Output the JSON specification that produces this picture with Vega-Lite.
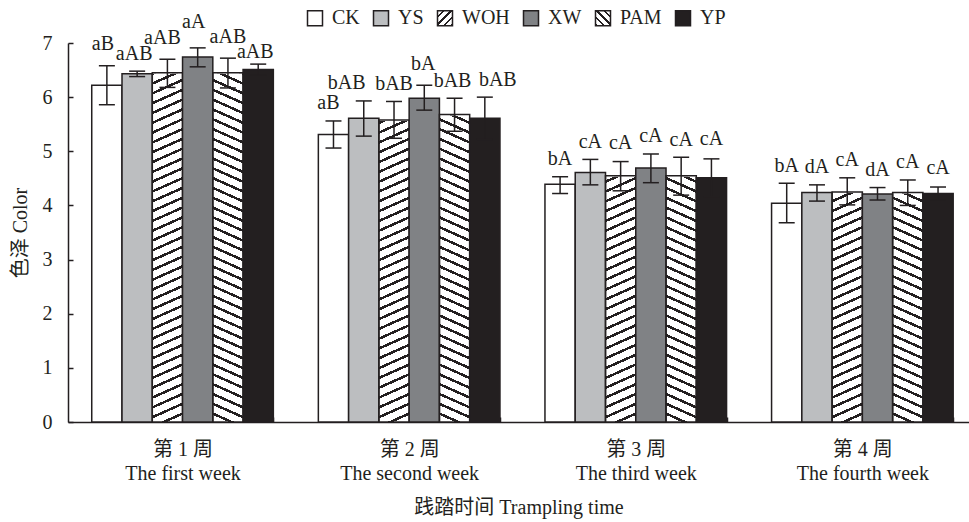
{
  "$schema": "https://vega.github.io/schema/vega-lite/v6.json",
  "width": 901,
  "height": 379,
  "autosize": {"type": "none"},
  "padding": {"left": 68, "top": 43, "right": 0, "bottom": 100},
  "background": "white",
  "config": {
    "font": "Liberation Serif, Noto Sans CJK SC",
    "view": {"stroke": null},
    "axis": {
      "labelFont": "Liberation Serif, Noto Sans CJK SC",
      "titleFont": "Liberation Serif, Noto Sans CJK SC",
      "labelFontSize": 20,
      "titleFontSize": 20,
      "titleFontWeight": "normal",
      "labelColor": "#231f20",
      "titleColor": "#231f20",
      "domainColor": "#231f20",
      "domainWidth": 1.5,
      "tickColor": "#231f20",
      "tickWidth": 1.5,
      "grid": false
    },
    "axisY": {"tickSize": -5, "labelPadding": 21, "titlePadding": 12, "grid": false},
    "axisX": {"tickSize": -5, "labelPadding": 22, "titlePadding": 14, "labelLineHeight": 24, "labelAngle": 0, "tickBand": "extent", "grid": false}
  },
  "data": {
    "values": [
      {"week": "第 1 周|The first week", "treat": "CK", "mean": 6.22, "lo": 5.86, "hi": 6.58, "label": "aB"},
      {"week": "第 1 周|The first week", "treat": "YS", "mean": 6.43, "lo": 6.38, "hi": 6.48, "label": "aAB"},
      {"week": "第 1 周|The first week", "treat": "WOH", "mean": 6.45, "lo": 6.18, "hi": 6.70, "label": "aAB"},
      {"week": "第 1 周|The first week", "treat": "XW", "mean": 6.74, "lo": 6.56, "hi": 6.91, "label": "aA"},
      {"week": "第 1 周|The first week", "treat": "PAM", "mean": 6.45, "lo": 6.17, "hi": 6.72, "label": "aAB"},
      {"week": "第 1 周|The first week", "treat": "YP", "mean": 6.51, "lo": 6.41, "hi": 6.61, "label": "aAB"},
      {"week": "第 2 周|The second week", "treat": "CK", "mean": 5.31, "lo": 5.06, "hi": 5.56, "label": "aB"},
      {"week": "第 2 周|The second week", "treat": "YS", "mean": 5.61, "lo": 5.28, "hi": 5.93, "label": "bAB"},
      {"week": "第 2 周|The second week", "treat": "WOH", "mean": 5.58, "lo": 5.24, "hi": 5.92, "label": "bAB"},
      {"week": "第 2 周|The second week", "treat": "XW", "mean": 5.98, "lo": 5.76, "hi": 6.22, "label": "bA"},
      {"week": "第 2 周|The second week", "treat": "PAM", "mean": 5.68, "lo": 5.37, "hi": 5.98, "label": "bAB"},
      {"week": "第 2 周|The second week", "treat": "YP", "mean": 5.61, "lo": 5.22, "hi": 6.00, "label": "bAB"},
      {"week": "第 3 周|The third week", "treat": "CK", "mean": 4.39, "lo": 4.22, "hi": 4.53, "label": "bA"},
      {"week": "第 3 周|The third week", "treat": "YS", "mean": 4.61, "lo": 4.38, "hi": 4.85, "label": "cA"},
      {"week": "第 3 周|The third week", "treat": "WOH", "mean": 4.55, "lo": 4.27, "hi": 4.81, "label": "cA"},
      {"week": "第 3 周|The third week", "treat": "XW", "mean": 4.69, "lo": 4.42, "hi": 4.95, "label": "cA"},
      {"week": "第 3 周|The third week", "treat": "PAM", "mean": 4.55, "lo": 4.19, "hi": 4.89, "label": "cA"},
      {"week": "第 3 周|The third week", "treat": "YP", "mean": 4.51, "lo": 4.16, "hi": 4.86, "label": "cA"},
      {"week": "第 4 周|The fourth week", "treat": "CK", "mean": 4.04, "lo": 3.68, "hi": 4.41, "label": "bA"},
      {"week": "第 4 周|The fourth week", "treat": "YS", "mean": 4.24, "lo": 4.08, "hi": 4.38, "label": "dA"},
      {"week": "第 4 周|The fourth week", "treat": "WOH", "mean": 4.25, "lo": 4.01, "hi": 4.51, "label": "cA"},
      {"week": "第 4 周|The fourth week", "treat": "XW", "mean": 4.21, "lo": 4.10, "hi": 4.33, "label": "dA"},
      {"week": "第 4 周|The fourth week", "treat": "PAM", "mean": 4.24, "lo": 4.00, "hi": 4.47, "label": "cA"},
      {"week": "第 4 周|The fourth week", "treat": "YP", "mean": 4.22, "lo": 4.10, "hi": 4.34, "label": "cA"}
    ]
  },
  "encoding": {
    "x": {
      "field": "week",
      "type": "nominal",
      "sort": null,
      "scale": {
        "domain": ["第 1 周|The first week", "第 2 周|The second week", "第 3 周|The third week", "第 4 周|The fourth week"],
        "paddingInner": 0.1986,
        "paddingOuter": 0.0873,
        "align": 0.6
      },
      "axis": {
        "title": "践踏时间 Trampling time",
        "labelExpr": "split(datum.label, '|')",
        "grid": false
      }
    },
    "xOffset": {
      "field": "treat",
      "type": "nominal",
      "sort": null,
      "scale": {"domain": ["CK", "YS", "WOH", "XW", "PAM", "YP"], "paddingInner": 0, "paddingOuter": 0}
    }
  },
  "layer": [
    {
      "transform": [{"filter": "datum.treat === 'WOH'"}],
      "mark": {
        "type": "bar",
        "fill": {"gradient": "linear", "x1": 0, "y1": 0, "x2": 0.0368, "y2": 1.0343, "stops": [
          {"offset":0,"color":"#231f20"},{"offset":0.007,"color":"#231f20"},{"offset":0.007,"color":"#fff"},{"offset":0.025,"color":"#fff"},
          {"offset":0.025,"color":"#231f20"},{"offset":0.032,"color":"#231f20"},{"offset":0.032,"color":"#fff"},{"offset":0.05,"color":"#fff"},
          {"offset":0.05,"color":"#231f20"},{"offset":0.057,"color":"#231f20"},{"offset":0.057,"color":"#fff"},{"offset":0.075,"color":"#fff"},
          {"offset":0.075,"color":"#231f20"},{"offset":0.082,"color":"#231f20"},{"offset":0.082,"color":"#fff"},{"offset":0.1,"color":"#fff"},
          {"offset":0.1,"color":"#231f20"},{"offset":0.107,"color":"#231f20"},{"offset":0.107,"color":"#fff"},{"offset":0.125,"color":"#fff"},
          {"offset":0.125,"color":"#231f20"},{"offset":0.132,"color":"#231f20"},{"offset":0.132,"color":"#fff"},{"offset":0.15,"color":"#fff"},
          {"offset":0.15,"color":"#231f20"},{"offset":0.157,"color":"#231f20"},{"offset":0.157,"color":"#fff"},{"offset":0.175,"color":"#fff"},
          {"offset":0.175,"color":"#231f20"},{"offset":0.182,"color":"#231f20"},{"offset":0.182,"color":"#fff"},{"offset":0.2,"color":"#fff"},
          {"offset":0.2,"color":"#231f20"},{"offset":0.207,"color":"#231f20"},{"offset":0.207,"color":"#fff"},{"offset":0.225,"color":"#fff"},
          {"offset":0.225,"color":"#231f20"},{"offset":0.232,"color":"#231f20"},{"offset":0.232,"color":"#fff"},{"offset":0.25,"color":"#fff"},
          {"offset":0.25,"color":"#231f20"},{"offset":0.257,"color":"#231f20"},{"offset":0.257,"color":"#fff"},{"offset":0.275,"color":"#fff"},
          {"offset":0.275,"color":"#231f20"},{"offset":0.282,"color":"#231f20"},{"offset":0.282,"color":"#fff"},{"offset":0.3,"color":"#fff"},
          {"offset":0.3,"color":"#231f20"},{"offset":0.307,"color":"#231f20"},{"offset":0.307,"color":"#fff"},{"offset":0.325,"color":"#fff"},
          {"offset":0.325,"color":"#231f20"},{"offset":0.332,"color":"#231f20"},{"offset":0.332,"color":"#fff"},{"offset":0.35,"color":"#fff"},
          {"offset":0.35,"color":"#231f20"},{"offset":0.357,"color":"#231f20"},{"offset":0.357,"color":"#fff"},{"offset":0.375,"color":"#fff"},
          {"offset":0.375,"color":"#231f20"},{"offset":0.382,"color":"#231f20"},{"offset":0.382,"color":"#fff"},{"offset":0.4,"color":"#fff"},
          {"offset":0.4,"color":"#231f20"},{"offset":0.407,"color":"#231f20"},{"offset":0.407,"color":"#fff"},{"offset":0.425,"color":"#fff"},
          {"offset":0.425,"color":"#231f20"},{"offset":0.432,"color":"#231f20"},{"offset":0.432,"color":"#fff"},{"offset":0.45,"color":"#fff"},
          {"offset":0.45,"color":"#231f20"},{"offset":0.457,"color":"#231f20"},{"offset":0.457,"color":"#fff"},{"offset":0.475,"color":"#fff"},
          {"offset":0.475,"color":"#231f20"},{"offset":0.482,"color":"#231f20"},{"offset":0.482,"color":"#fff"},{"offset":0.5,"color":"#fff"},
          {"offset":0.5,"color":"#231f20"},{"offset":0.507,"color":"#231f20"},{"offset":0.507,"color":"#fff"},{"offset":0.525,"color":"#fff"},
          {"offset":0.525,"color":"#231f20"},{"offset":0.532,"color":"#231f20"},{"offset":0.532,"color":"#fff"},{"offset":0.55,"color":"#fff"},
          {"offset":0.55,"color":"#231f20"},{"offset":0.557,"color":"#231f20"},{"offset":0.557,"color":"#fff"},{"offset":0.575,"color":"#fff"},
          {"offset":0.575,"color":"#231f20"},{"offset":0.582,"color":"#231f20"},{"offset":0.582,"color":"#fff"},{"offset":0.6,"color":"#fff"},
          {"offset":0.6,"color":"#231f20"},{"offset":0.607,"color":"#231f20"},{"offset":0.607,"color":"#fff"},{"offset":0.625,"color":"#fff"},
          {"offset":0.625,"color":"#231f20"},{"offset":0.632,"color":"#231f20"},{"offset":0.632,"color":"#fff"},{"offset":0.65,"color":"#fff"},
          {"offset":0.65,"color":"#231f20"},{"offset":0.657,"color":"#231f20"},{"offset":0.657,"color":"#fff"},{"offset":0.675,"color":"#fff"},
          {"offset":0.675,"color":"#231f20"},{"offset":0.682,"color":"#231f20"},{"offset":0.682,"color":"#fff"},{"offset":0.7,"color":"#fff"},
          {"offset":0.7,"color":"#231f20"},{"offset":0.707,"color":"#231f20"},{"offset":0.707,"color":"#fff"},{"offset":0.725,"color":"#fff"},
          {"offset":0.725,"color":"#231f20"},{"offset":0.732,"color":"#231f20"},{"offset":0.732,"color":"#fff"},{"offset":0.75,"color":"#fff"},
          {"offset":0.75,"color":"#231f20"},{"offset":0.757,"color":"#231f20"},{"offset":0.757,"color":"#fff"},{"offset":0.775,"color":"#fff"},
          {"offset":0.775,"color":"#231f20"},{"offset":0.782,"color":"#231f20"},{"offset":0.782,"color":"#fff"},{"offset":0.8,"color":"#fff"},
          {"offset":0.8,"color":"#231f20"},{"offset":0.807,"color":"#231f20"},{"offset":0.807,"color":"#fff"},{"offset":0.825,"color":"#fff"},
          {"offset":0.825,"color":"#231f20"},{"offset":0.832,"color":"#231f20"},{"offset":0.832,"color":"#fff"},{"offset":0.85,"color":"#fff"},
          {"offset":0.85,"color":"#231f20"},{"offset":0.857,"color":"#231f20"},{"offset":0.857,"color":"#fff"},{"offset":0.875,"color":"#fff"},
          {"offset":0.875,"color":"#231f20"},{"offset":0.882,"color":"#231f20"},{"offset":0.882,"color":"#fff"},{"offset":0.9,"color":"#fff"},
          {"offset":0.9,"color":"#231f20"},{"offset":0.907,"color":"#231f20"},{"offset":0.907,"color":"#fff"},{"offset":0.925,"color":"#fff"},
          {"offset":0.925,"color":"#231f20"},{"offset":0.932,"color":"#231f20"},{"offset":0.932,"color":"#fff"},{"offset":0.95,"color":"#fff"},
          {"offset":0.95,"color":"#231f20"},{"offset":0.957,"color":"#231f20"},{"offset":0.957,"color":"#fff"},{"offset":0.975,"color":"#fff"},
          {"offset":0.975,"color":"#231f20"},{"offset":0.982,"color":"#231f20"},{"offset":0.982,"color":"#fff"},{"offset":1,"color":"#fff"}
        ]}
      },
      "encoding": {
        "y": {"datum": 0, "type": "quantitative", "title": "色泽 Color"},
        "y2": {"datum": 7}
      }
    },
    {
      "transform": [{"filter": "datum.treat === 'PAM'"}],
      "mark": {
        "type": "bar",
        "fill": {"gradient": "linear", "x1": 1, "y1": 0, "x2": 0.9632, "y2": 1.0343, "stops": [
          {"offset":0,"color":"#231f20"},{"offset":0.007,"color":"#231f20"},{"offset":0.007,"color":"#fff"},{"offset":0.025,"color":"#fff"},
          {"offset":0.025,"color":"#231f20"},{"offset":0.032,"color":"#231f20"},{"offset":0.032,"color":"#fff"},{"offset":0.05,"color":"#fff"},
          {"offset":0.05,"color":"#231f20"},{"offset":0.057,"color":"#231f20"},{"offset":0.057,"color":"#fff"},{"offset":0.075,"color":"#fff"},
          {"offset":0.075,"color":"#231f20"},{"offset":0.082,"color":"#231f20"},{"offset":0.082,"color":"#fff"},{"offset":0.1,"color":"#fff"},
          {"offset":0.1,"color":"#231f20"},{"offset":0.107,"color":"#231f20"},{"offset":0.107,"color":"#fff"},{"offset":0.125,"color":"#fff"},
          {"offset":0.125,"color":"#231f20"},{"offset":0.132,"color":"#231f20"},{"offset":0.132,"color":"#fff"},{"offset":0.15,"color":"#fff"},
          {"offset":0.15,"color":"#231f20"},{"offset":0.157,"color":"#231f20"},{"offset":0.157,"color":"#fff"},{"offset":0.175,"color":"#fff"},
          {"offset":0.175,"color":"#231f20"},{"offset":0.182,"color":"#231f20"},{"offset":0.182,"color":"#fff"},{"offset":0.2,"color":"#fff"},
          {"offset":0.2,"color":"#231f20"},{"offset":0.207,"color":"#231f20"},{"offset":0.207,"color":"#fff"},{"offset":0.225,"color":"#fff"},
          {"offset":0.225,"color":"#231f20"},{"offset":0.232,"color":"#231f20"},{"offset":0.232,"color":"#fff"},{"offset":0.25,"color":"#fff"},
          {"offset":0.25,"color":"#231f20"},{"offset":0.257,"color":"#231f20"},{"offset":0.257,"color":"#fff"},{"offset":0.275,"color":"#fff"},
          {"offset":0.275,"color":"#231f20"},{"offset":0.282,"color":"#231f20"},{"offset":0.282,"color":"#fff"},{"offset":0.3,"color":"#fff"},
          {"offset":0.3,"color":"#231f20"},{"offset":0.307,"color":"#231f20"},{"offset":0.307,"color":"#fff"},{"offset":0.325,"color":"#fff"},
          {"offset":0.325,"color":"#231f20"},{"offset":0.332,"color":"#231f20"},{"offset":0.332,"color":"#fff"},{"offset":0.35,"color":"#fff"},
          {"offset":0.35,"color":"#231f20"},{"offset":0.357,"color":"#231f20"},{"offset":0.357,"color":"#fff"},{"offset":0.375,"color":"#fff"},
          {"offset":0.375,"color":"#231f20"},{"offset":0.382,"color":"#231f20"},{"offset":0.382,"color":"#fff"},{"offset":0.4,"color":"#fff"},
          {"offset":0.4,"color":"#231f20"},{"offset":0.407,"color":"#231f20"},{"offset":0.407,"color":"#fff"},{"offset":0.425,"color":"#fff"},
          {"offset":0.425,"color":"#231f20"},{"offset":0.432,"color":"#231f20"},{"offset":0.432,"color":"#fff"},{"offset":0.45,"color":"#fff"},
          {"offset":0.45,"color":"#231f20"},{"offset":0.457,"color":"#231f20"},{"offset":0.457,"color":"#fff"},{"offset":0.475,"color":"#fff"},
          {"offset":0.475,"color":"#231f20"},{"offset":0.482,"color":"#231f20"},{"offset":0.482,"color":"#fff"},{"offset":0.5,"color":"#fff"},
          {"offset":0.5,"color":"#231f20"},{"offset":0.507,"color":"#231f20"},{"offset":0.507,"color":"#fff"},{"offset":0.525,"color":"#fff"},
          {"offset":0.525,"color":"#231f20"},{"offset":0.532,"color":"#231f20"},{"offset":0.532,"color":"#fff"},{"offset":0.55,"color":"#fff"},
          {"offset":0.55,"color":"#231f20"},{"offset":0.557,"color":"#231f20"},{"offset":0.557,"color":"#fff"},{"offset":0.575,"color":"#fff"},
          {"offset":0.575,"color":"#231f20"},{"offset":0.582,"color":"#231f20"},{"offset":0.582,"color":"#fff"},{"offset":0.6,"color":"#fff"},
          {"offset":0.6,"color":"#231f20"},{"offset":0.607,"color":"#231f20"},{"offset":0.607,"color":"#fff"},{"offset":0.625,"color":"#fff"},
          {"offset":0.625,"color":"#231f20"},{"offset":0.632,"color":"#231f20"},{"offset":0.632,"color":"#fff"},{"offset":0.65,"color":"#fff"},
          {"offset":0.65,"color":"#231f20"},{"offset":0.657,"color":"#231f20"},{"offset":0.657,"color":"#fff"},{"offset":0.675,"color":"#fff"},
          {"offset":0.675,"color":"#231f20"},{"offset":0.682,"color":"#231f20"},{"offset":0.682,"color":"#fff"},{"offset":0.7,"color":"#fff"},
          {"offset":0.7,"color":"#231f20"},{"offset":0.707,"color":"#231f20"},{"offset":0.707,"color":"#fff"},{"offset":0.725,"color":"#fff"},
          {"offset":0.725,"color":"#231f20"},{"offset":0.732,"color":"#231f20"},{"offset":0.732,"color":"#fff"},{"offset":0.75,"color":"#fff"},
          {"offset":0.75,"color":"#231f20"},{"offset":0.757,"color":"#231f20"},{"offset":0.757,"color":"#fff"},{"offset":0.775,"color":"#fff"},
          {"offset":0.775,"color":"#231f20"},{"offset":0.782,"color":"#231f20"},{"offset":0.782,"color":"#fff"},{"offset":0.8,"color":"#fff"},
          {"offset":0.8,"color":"#231f20"},{"offset":0.807,"color":"#231f20"},{"offset":0.807,"color":"#fff"},{"offset":0.825,"color":"#fff"},
          {"offset":0.825,"color":"#231f20"},{"offset":0.832,"color":"#231f20"},{"offset":0.832,"color":"#fff"},{"offset":0.85,"color":"#fff"},
          {"offset":0.85,"color":"#231f20"},{"offset":0.857,"color":"#231f20"},{"offset":0.857,"color":"#fff"},{"offset":0.875,"color":"#fff"},
          {"offset":0.875,"color":"#231f20"},{"offset":0.882,"color":"#231f20"},{"offset":0.882,"color":"#fff"},{"offset":0.9,"color":"#fff"},
          {"offset":0.9,"color":"#231f20"},{"offset":0.907,"color":"#231f20"},{"offset":0.907,"color":"#fff"},{"offset":0.925,"color":"#fff"},
          {"offset":0.925,"color":"#231f20"},{"offset":0.932,"color":"#231f20"},{"offset":0.932,"color":"#fff"},{"offset":0.95,"color":"#fff"},
          {"offset":0.95,"color":"#231f20"},{"offset":0.957,"color":"#231f20"},{"offset":0.957,"color":"#fff"},{"offset":0.975,"color":"#fff"},
          {"offset":0.975,"color":"#231f20"},{"offset":0.982,"color":"#231f20"},{"offset":0.982,"color":"#fff"},{"offset":1,"color":"#fff"}
        ]}
      },
      "encoding": {
        "y": {"datum": 0, "type": "quantitative", "title": "色泽 Color"},
        "y2": {"datum": 7}
      }
    },
    {
      "transform": [{"filter": "datum.treat === 'WOH' || datum.treat === 'PAM'"}],
      "mark": {"type": "bar", "fill": "white", "stroke": "white", "strokeWidth": 2},
      "encoding": {
        "y": {"field": "mean", "type": "quantitative", "title": "色泽 Color"},
        "y2": {"datum": 7}
      }
    },
    {
      "mark": {"type": "bar", "stroke": "#231f20", "strokeWidth": 1.5, "opacity": 1},
      "encoding": {
        "y": {
          "field": "mean",
          "type": "quantitative",
          "title": "色泽 Color",
          "scale": {"domain": [0, 7], "nice": false},
          "axis": {"values": [0, 1, 2, 3, 4, 5, 6, 7], "format": "d", "grid": false}
        },
        "fill": {
          "condition": {"test": "datum.treat === 'WOH' || datum.treat === 'PAM'", "value": "transparent"},
          "field": "treat",
          "type": "nominal",
          "scale": {
            "domain": ["CK", "YS", "WOH", "XW", "PAM", "YP"],
            "range": [
              "#ffffff",
              "#bcbec0",
              {"expr": "{gradient: 'linear', x1: 0, y1: 0, x2: 1, y2: 1, stops: [{offset: 0, color: '#fff'}, {offset: 0.16, color: '#fff'}, {offset: 0.16, color: '#231f20'}, {offset: 0.25, color: '#231f20'}, {offset: 0.25, color: '#fff'}, {offset: 0.41, color: '#fff'}, {offset: 0.41, color: '#231f20'}, {offset: 0.5, color: '#231f20'}, {offset: 0.5, color: '#fff'}, {offset: 0.66, color: '#fff'}, {offset: 0.66, color: '#231f20'}, {offset: 0.75, color: '#231f20'}, {offset: 0.75, color: '#fff'}, {offset: 0.91, color: '#fff'}, {offset: 0.91, color: '#231f20'}, {offset: 1, color: '#231f20'}]}"},
              "#808285",
              {"expr": "{gradient: 'linear', x1: 1, y1: 0, x2: 0, y2: 1, stops: [{offset: 0, color: '#fff'}, {offset: 0.16, color: '#fff'}, {offset: 0.16, color: '#231f20'}, {offset: 0.25, color: '#231f20'}, {offset: 0.25, color: '#fff'}, {offset: 0.41, color: '#fff'}, {offset: 0.41, color: '#231f20'}, {offset: 0.5, color: '#231f20'}, {offset: 0.5, color: '#fff'}, {offset: 0.66, color: '#fff'}, {offset: 0.66, color: '#231f20'}, {offset: 0.75, color: '#231f20'}, {offset: 0.75, color: '#fff'}, {offset: 0.91, color: '#fff'}, {offset: 0.91, color: '#231f20'}, {offset: 1, color: '#231f20'}]}"},
              "#231f20"
            ]
          },
          "legend": {
            "orient": "none",
            "legendX": 237,
            "legendY": -35,
            "direction": "horizontal",
            "title": null,
            "symbolType": "square",
            "symbolSize": 225,
            "symbolStrokeColor": "#231f20",
            "symbolStrokeWidth": 1.5,
            "symbolOpacity": 1,
            "labelFont": "Liberation Serif",
            "labelFontSize": 20,
            "labelColor": "#231f20",
            "labelOffset": 7,
            "columnPadding": 10
          }
        }
      }
    },
    {
      "mark": {"type": "rule", "color": "#231f20", "strokeWidth": 1.5},
      "encoding": {
        "y": {"field": "lo", "type": "quantitative", "title": "色泽 Color"},
        "y2": {"field": "hi"}
      }
    },
    {
      "mark": {"type": "tick", "color": "#231f20", "size": 16, "thickness": 1.5, "opacity": 1},
      "encoding": {
        "y": {"field": "lo", "type": "quantitative", "title": "色泽 Color"}
      }
    },
    {
      "mark": {"type": "tick", "color": "#231f20", "size": 16, "thickness": 1.5, "opacity": 1},
      "encoding": {
        "y": {"field": "hi", "type": "quantitative", "title": "色泽 Color"}
      }
    },
    {
      "mark": {
        "type": "text",
        "fontSize": 20,
        "font": "Liberation Serif",
        "color": "#231f20",
        "baseline": "alphabetic",
        "dy": {"expr": "({'1CK': -16, '1YS': -11, '1WOH': -15, '1XW': -20, '1PAM': -15, '1YP': -6, '2XW': -15, '3WOH': -13, '3YP': -14, '4YP': -13.5})[substring(datum.week, 2, 3) + datum.treat] || -11.5"},
        "dx": {"expr": "({'1CK': -4, '1YS': -3, '1WOH': -5, '1XW': -4, '1YP': -3, '2CK': -5, '2YS': -17, '2XW': -1, '2PAM': -2, '2YP': 13})[substring(datum.week, 2, 3) + datum.treat] || 0"}
      },
      "encoding": {
        "y": {"field": "hi", "type": "quantitative", "title": "色泽 Color"},
        "text": {"field": "label"}
      }
    }
  ]
}
